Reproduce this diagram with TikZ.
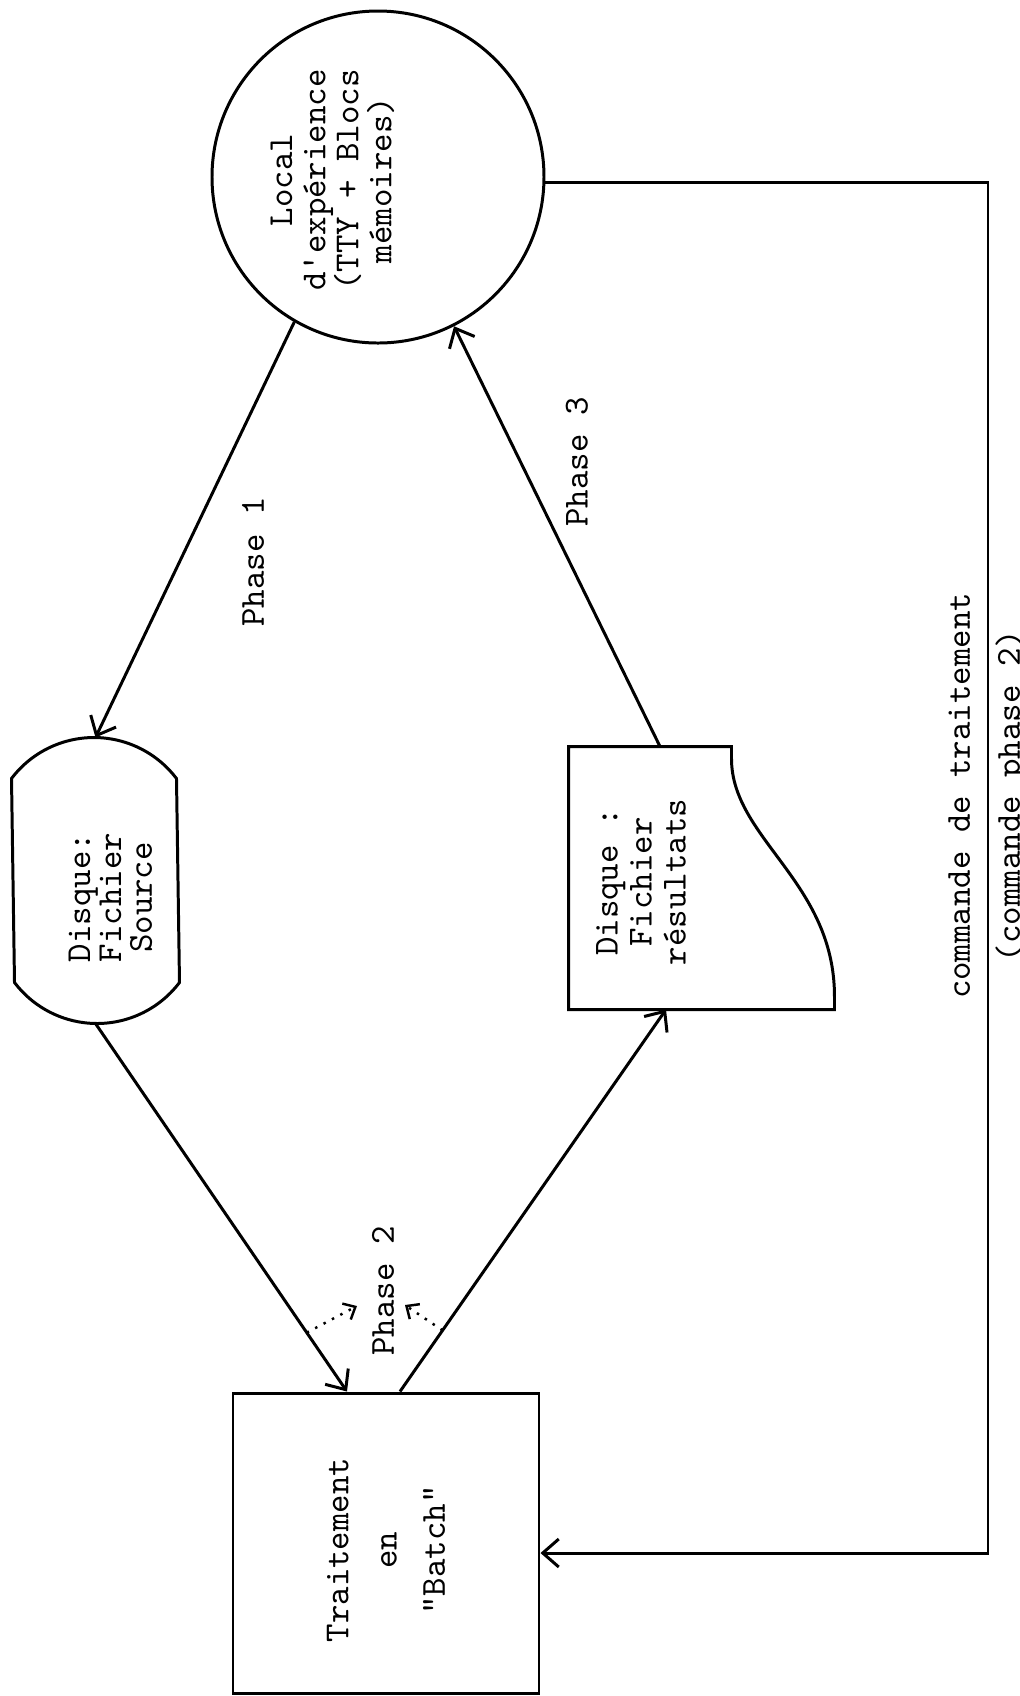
\documentclass[tikz,border=0pt]{standalone}
\usepackage{tikz}
\usetikzlibrary{arrows.meta,calc}

\begin{document}
\begin{tikzpicture}[line width=0.85pt, every node/.style={font=\ttfamily}]
\fill[white] (0,0) rectangle (10.2,-16.96);
\useasboundingbox (0,0) rectangle (10.2,-16.96);
\node[draw,circle,inner sep=0pt,minimum size=3.32cm] (lab) at (3.78,-1.77) {};
\node[rotate=90,align=center,font=\ttfamily\fontsize{10}{9.4}\selectfont] (labtxt) at ([xshift=-4.55mm,yshift=-0.3mm]lab.center) {Local\\d'expérience\\(TTY + Blocs\\mémoires)};
\node[inner sep=0pt,minimum width=1.65cm,minimum height=2.83cm] (src) at (0.955,-8.805) {};
\draw ([yshift=-4.1mm]src.north west) arc[start angle=142.85,end angle=37.15,radius=10.35mm] -- ([yshift=4.1mm]src.south east) arc[start angle=-37.15,end angle=-142.85,radius=10.35mm] -- cycle;
\node[rotate=90,align=center,font=\ttfamily\fontsize{10}{8.8}\selectfont] (srctxt) at ([xshift=1.5mm,yshift=-1.7mm]src.center) {Disque:\\Fichier\\Source};
\node[inner sep=0pt,minimum width=2.63cm,minimum height=2.6cm] (res) at (7.015,-8.78) {};
\draw (res.north west) -- ([xshift=-10.3mm]res.north east) -- +(0,-0.12) .. controls +(0,-0.8) and ([yshift=12.8mm]res.south east) .. ([yshift=1.3mm]res.south east) -- (res.south east) -- (res.south west) -- cycle;
\node[rotate=90,align=center,font=\ttfamily\fontsize{10}{9.7}\selectfont] (restxt) at ([xshift=-6.05mm,yshift=-0.4mm]res.center) {Disque :\\Fichier\\résultats};
\node[draw,inner sep=0pt,minimum width=3.06cm,minimum height=3cm] (batch) at (3.86,-15.43) {};
\node[rotate=90,align=center,font=\ttfamily\fontsize{10}{13.7}\selectfont] (batchtxt) at ([yshift=-0.7mm]batch.center) {Traitement\\en\\"Batch"};
\node[rotate=90] (ph1) at (2.53,-5.62) {Phase 1};
\node[rotate=90] (ph2) at (3.83,-12.91) {Phase 2};
\node[rotate=90] (ph3) at (5.77,-4.62) {Phase 3};
\node[rotate=90,align=center,font=\ttfamily\fontsize{10}{14.2}\selectfont] (cmd) at (9.88,-7.96) {commande de traitement\\(commande phase 2)};
\coordinate (turn) at (9.88,0);
\coordinate (cmdin) at ([yshift=-1mm]batch.east);
\coordinate (p2l) at (3.57,-13.06);
\coordinate (p2r) at (4.05,-13.05);
\draw[-{Straight Barb[length=1.6mm,width=2.8mm]}] (lab.240) -- (src.north);
\draw[-{Straight Barb[length=1.6mm,width=2.8mm]}] (src.south) -- coordinate[pos=0.84] (dl) ([xshift=-3.9mm]batch.north);
\draw[-{Straight Barb[length=1.6mm,width=2.8mm]}] ([xshift=1.4mm]batch.north) -- coordinate[pos=0.16] (dr) ([xshift=-3.55mm]res.south);
\draw[-{Straight Barb[length=1.6mm,width=2.8mm]}] ([xshift=-4.15mm]res.north) -- (lab.297);
\draw[-{Straight Barb[length=1.6mm,width=2.8mm]}] (lab.358) -- (lab.358 -| turn) -- (turn |- cmdin) -- (cmdin);
\draw[dotted,line width=0.7pt,-{Straight Barb[length=1mm,width=1.8mm]}] (dl) -- (p2l);
\draw[dotted,line width=0.7pt,-{Straight Barb[length=1mm,width=1.8mm]}] (dr) -- (p2r);
\end{tikzpicture}
\end{document}
